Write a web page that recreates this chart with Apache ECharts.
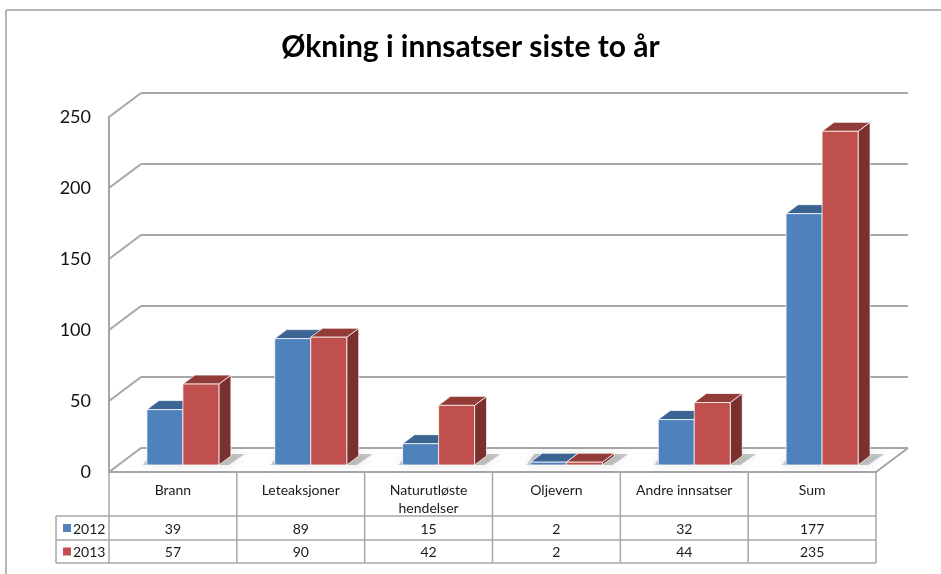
<!DOCTYPE html>
<html>
<head>
<meta charset="utf-8">
<script src="https://cdn.jsdelivr.net/npm/echarts@6/dist/echarts.min.js"></script>
<style>
  html, body { margin: 0; padding: 0; background: #ffffff; }
  #chart { width: 941px; height: 574px; }
</style>
</head>
<body>
<div id="chart"></div>
<script>
// Antall innsatser per kategori, 2012 og 2013
const categories = ['Brann', 'Leteaksjoner', 'Naturutløste hendelser', 'Oljevern', 'Andre innsatser', 'Sum'];
const seriesNames = ['2012', '2013'];
const values2012 = [39, 89, 15, 2, 32, 177];
const values2013 = [57, 90, 42, 2, 44, 235];
const yTicks = [0, 50, 100, 150, 200, 250];

const FONT = 'Lato, "Open Sans", sans-serif';
const LINE = '#a6a6a6';
const WALL = { dx: 32, dy: -24 };      // depth of the back wall
const BAR_POS = { dx: 10, dy: -7 };    // bars stand part way into the floor
const BAR_DEPTH = { dx: 12, dy: -9 };  // depth of each column
const BAR_W = 36;
const TABLE = { header: 472, row1: 516, row2: 540, bottom: 563, legendLeft: 56 };
const palette = [
  { front: '#4f81bd', top: '#3b6492', side: '#365b88' },
  { front: '#c0504d', top: '#933b38', side: '#7a302e' }
];

const chart = echarts.init(document.getElementById('chart'));

// Back wall, side wall and floor outline
function renderWalls(params, api) {
  const cs = params.coordSys;
  const v = api.value(1);
  const y = api.coord([0, v])[1];
  const x0 = cs.x, x1 = cs.x + cs.width;
  const children = [
    { type: 'line', shape: { x1: x0, y1: y, x2: x0 + WALL.dx, y2: y + WALL.dy }, style: { stroke: LINE, lineWidth: 2 } },
    { type: 'line', shape: { x1: x0 + WALL.dx, y1: y + WALL.dy, x2: x1 + WALL.dx, y2: y + WALL.dy }, style: { stroke: LINE, lineWidth: 2 } }
  ];
  if (v === 0) {
    children.push({ type: 'line', shape: { x1: x1 + WALL.dx, y1: y + WALL.dy, x2: x1, y2: y }, style: { stroke: LINE, lineWidth: 2 } });
  }
  return { type: 'group', children };
}

// Soft floor shadow under each pair of columns
function renderShadow(params, api) {
  const i = api.value(0);
  const c = api.coord([i, 0]);
  const left = c[0] + BAR_POS.dx - BAR_W;
  const right = c[0] + BAR_POS.dx + BAR_W;
  const by = c[1] + BAR_POS.dy;
  return {
    type: 'polygon',
    shape: { points: [[left - 4, by], [right + 10, by], [right + BAR_DEPTH.dx + 14, by + BAR_DEPTH.dy - 2], [left + BAR_DEPTH.dx - 8, by + BAR_DEPTH.dy - 2]] },
    style: { fill: 'rgba(0,0,0,0.22)', shadowBlur: 12, shadowColor: 'rgba(0,0,0,0.5)' }
  };
}

// 3D column: front, top and right-hand faces
function makeBarRenderer(s) {
  return function (params, api) {
    const i = api.value(0);
    const v = api.value(1);
    const base = api.coord([i, 0]);
    const topPt = api.coord([i, v]);
    const left = base[0] + BAR_POS.dx + (s === 0 ? -BAR_W : 0);
    const right = left + BAR_W;
    const by = base[1] + BAR_POS.dy;
    const ty = topPt[1] + BAR_POS.dy;
    const col = palette[s];
    const edge = 'rgba(255,255,255,0.75)';
    return {
      type: 'group',
      children: [
        { type: 'polygon', shape: { points: [[right, ty], [right + BAR_DEPTH.dx, ty + BAR_DEPTH.dy], [right + BAR_DEPTH.dx, by + BAR_DEPTH.dy], [right, by]] },
          style: { fill: col.side, stroke: edge, lineWidth: 1 } },
        { type: 'polygon', shape: { points: [[left, ty], [left + BAR_DEPTH.dx, ty + BAR_DEPTH.dy], [right + BAR_DEPTH.dx, ty + BAR_DEPTH.dy], [right, ty]] },
          style: { fill: col.top, stroke: edge, lineWidth: 1 } },
        { type: 'rect', shape: { x: left, y: ty, width: BAR_W, height: by - ty },
          style: { fill: col.front, stroke: edge, lineWidth: 1 } }
      ]
    };
  };
}

// Data table below the floor
function renderTable(params, api) {
  const i = api.value(0);
  const c = api.coord([i, 0])[0];
  const half = api.size([1, 0])[0] / 2;
  const l = c - half, r = c + half;
  const st = { stroke: LINE, lineWidth: 1.5 };
  const txt = (x, y, text) => ({ type: 'text', x, y, style: { text, fill: '#1a1a1a', font: '14px ' + FONT, align: 'center', verticalAlign: 'middle', lineHeight: 18 } });
  const name = categories[i].replace(' hendelser', '\nhendelser');
  const children = [
    { type: 'line', shape: { x1: l, y1: TABLE.header, x2: l, y2: TABLE.bottom }, style: st },
    { type: 'line', shape: { x1: l, y1: TABLE.row1, x2: r, y2: TABLE.row1 }, style: st },
    { type: 'line', shape: { x1: l, y1: TABLE.row2, x2: r, y2: TABLE.row2 }, style: st },
    { type: 'line', shape: { x1: l, y1: TABLE.bottom, x2: r, y2: TABLE.bottom }, style: st },
    { type: 'text', x: c, y: 481, style: { text: name, fill: '#1a1a1a', font: '14px ' + FONT, align: 'center', verticalAlign: 'top', lineHeight: 18 } },
    txt(c, (TABLE.row1 + TABLE.row2) / 2 + 1, String(values2012[i])),
    txt(c, (TABLE.row2 + TABLE.bottom) / 2 + 1, String(values2013[i]))
  ];
  if (i === categories.length - 1) {
    children.push({ type: 'line', shape: { x1: r, y1: TABLE.header, x2: r, y2: TABLE.bottom }, style: st });
  }
  return { type: 'group', children };
}

const catIdx = categories.map((_, i) => [i, 0]);

chart.setOption({
  animation: false,
  backgroundColor: '#ffffff',
  title: {
    text: 'Økning i innsatser siste to år',
    left: 'center',
    top: 27,
    textStyle: { fontFamily: FONT, fontSize: 30, fontWeight: 'bold', color: '#000000' }
  },
  grid: { left: 109, right: 65, top: 117, bottom: 102 },
  xAxis: {
    type: 'category',
    data: categories,
    axisLine: { show: true, lineStyle: { color: LINE, width: 2 } },
    axisTick: { show: false },
    axisLabel: { show: false },
    splitLine: { show: false }
  },
  yAxis: {
    type: 'value',
    min: 0,
    max: 250,
    interval: 50,
    axisLine: { show: true, lineStyle: { color: LINE, width: 2 } },
    axisTick: { show: false },
    splitLine: { show: false },
    axisLabel: { margin: 18, fontFamily: FONT, fontSize: 18, color: '#111111' }
  },
  graphic: [
    // chart frame
    { type: 'line', shape: { x1: 6, y1: 10, x2: 941, y2: 10 }, style: { stroke: '#b5b5b5', lineWidth: 2 }, z: 100 },
    { type: 'line', shape: { x1: 6, y1: 10, x2: 6, y2: 574 }, style: { stroke: '#b5b5b5', lineWidth: 2 }, z: 100 },
    // legend column of the data table
    { type: 'line', shape: { x1: TABLE.legendLeft, y1: TABLE.row1, x2: 109, y2: TABLE.row1 }, style: { stroke: LINE, lineWidth: 1.5 } },
    { type: 'line', shape: { x1: TABLE.legendLeft, y1: TABLE.row2, x2: 109, y2: TABLE.row2 }, style: { stroke: LINE, lineWidth: 1.5 } },
    { type: 'line', shape: { x1: TABLE.legendLeft, y1: TABLE.bottom, x2: 109, y2: TABLE.bottom }, style: { stroke: LINE, lineWidth: 1.5 } },
    { type: 'line', shape: { x1: TABLE.legendLeft, y1: TABLE.row1, x2: TABLE.legendLeft, y2: TABLE.bottom }, style: { stroke: LINE, lineWidth: 1.5 } },
    ...seriesNames.map((n, s) => {
      const cy = s === 0 ? (TABLE.row1 + TABLE.row2) / 2 : (TABLE.row2 + TABLE.bottom) / 2;
      return { type: 'group', children: [
        { type: 'rect', shape: { x: 63, y: cy - 4, width: 8, height: 8 }, style: { fill: palette[s].front } },
        { type: 'text', x: 73, y: cy + 1, style: { text: n, font: '14px ' + FONT, fill: '#1a1a1a', verticalAlign: 'middle' } }
      ] };
    })
  ],
  series: [
    { type: 'custom', name: 'walls', renderItem: renderWalls, data: yTicks.map(v => [0, v]), z: 1, silent: true },
    { type: 'custom', name: 'shadow', renderItem: renderShadow, data: catIdx, z: 2, silent: true },
    { type: 'custom', name: seriesNames[0], renderItem: makeBarRenderer(0), data: values2012.map((v, i) => [i, v]), z: 3 },
    { type: 'custom', name: seriesNames[1], renderItem: makeBarRenderer(1), data: values2013.map((v, i) => [i, v]), z: 4 },
    { type: 'custom', name: 'table', renderItem: renderTable, data: catIdx, z: 5, silent: true }
  ]
});
</script>
</body>
</html>
